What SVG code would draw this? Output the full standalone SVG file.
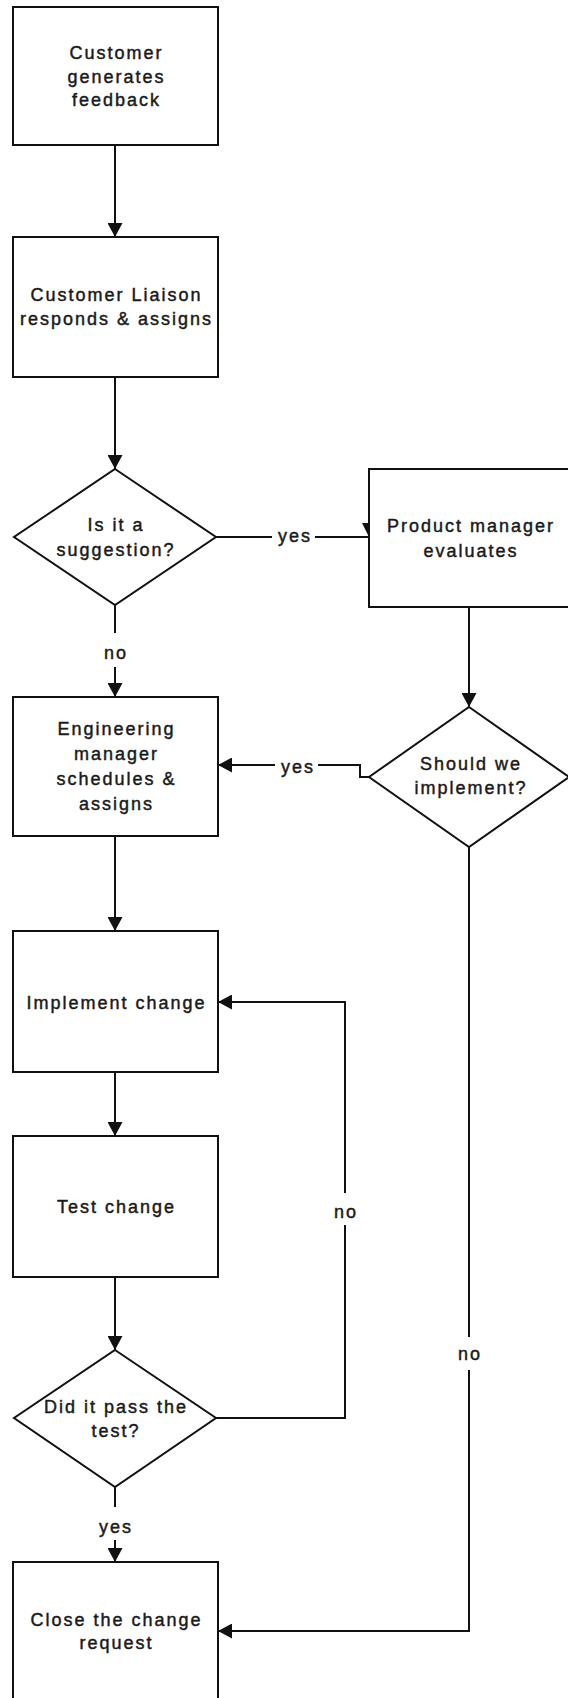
<svg xmlns="http://www.w3.org/2000/svg" width="568" height="1698" viewBox="0 0 568 1698">
<style>
.node rect, .node polygon { fill: #fff; stroke: #111; stroke-width: 2; }
text { font-family: "Liberation Sans", Arial, sans-serif; font-size: 18px; letter-spacing: 2px; fill: #1a1a1a; stroke: #1a1a1a; stroke-width: 0.45px; text-anchor: middle; }
.conn path { fill: none; stroke: #111; stroke-width: 2; }
.conn polygon { fill: #111; stroke: none; }
</style>
<defs>
<marker id="arrow" markerUnits="userSpaceOnUse" markerWidth="15" markerHeight="15" refX="14" refY="7.5" orient="auto">
<path d="M0,0 L14,7.5 L0,15 z" fill="#111"/>
</marker>
</defs>
<rect width="568" height="1698" fill="#fff"/>
<g id="connectors" class="conn">
<path d="M115,145 V237" marker-end="url(#arrow)"/>
<path d="M115,377 V469" marker-end="url(#arrow)"/>
<path d="M216,537 H272"/>
<path d="M315,537 H369"/>
<polygon points="362,523 376,523 369,537"/>
<path d="M115,605 V633"/>
<path d="M115,667 V697" marker-end="url(#arrow)"/>
<path d="M469,607 V707" marker-end="url(#arrow)"/>
<path d="M369,777 H360 V765 H318"/>
<path d="M275,765 H218" marker-end="url(#arrow)"/>
<path d="M115,836 V931" marker-end="url(#arrow)"/>
<path d="M115,1072 V1136" marker-end="url(#arrow)"/>
<path d="M115,1277 V1350" marker-end="url(#arrow)"/>
<path d="M216,1418 H345 V1225"/>
<path d="M345,1193 V1002 H218" marker-end="url(#arrow)"/>
<path d="M115,1487 V1507"/>
<path d="M115,1540 V1562" marker-end="url(#arrow)"/>
<path d="M469,847 V1337"/>
<path d="M469,1370 V1631 H218" marker-end="url(#arrow)"/>
<text x="295" y="542">yes</text>
<text x="116" y="659">no</text>
<text x="298" y="773">yes</text>
<text x="346" y="1218">no</text>
<text x="470" y="1360">no</text>
<text x="116" y="1533">yes</text>
</g>
<g id="customer-feedback" class="node">
<rect x="13" y="7" width="205" height="138"/>
<text x="116.5" y="59">Customer</text>
<text x="116.5" y="83">generates</text>
<text x="116.5" y="106">feedback</text>
</g>
<g id="liaison" class="node">
<rect x="13" y="237" width="205" height="140"/>
<text x="116.5" y="301">Customer Liaison</text>
<text x="116.5" y="325">responds &amp; assigns</text>
</g>
<g id="is-suggestion" class="node">
<polygon points="115,469 216,537 115,605 14,537"/>
<text x="116" y="531">Is it a</text>
<text x="116" y="556">suggestion?</text>
</g>
<g id="product-manager" class="node">
<rect x="369" y="469" width="210" height="138"/>
<text x="471" y="532">Product manager</text>
<text x="471" y="557">evaluates</text>
</g>
<g id="should-implement" class="node">
<polygon points="469,707 569,777 469,847 369,777"/>
<text x="471" y="770">Should we</text>
<text x="471" y="794">implement?</text>
</g>
<g id="engineering-manager" class="node">
<rect x="13" y="697" width="205" height="139"/>
<text x="116.5" y="735">Engineering</text>
<text x="116.5" y="760">manager</text>
<text x="116.5" y="785">schedules &amp;</text>
<text x="116.5" y="810">assigns</text>
</g>
<g id="implement-change" class="node">
<rect x="13" y="931" width="205" height="141"/>
<text x="116.5" y="1009">Implement change</text>
</g>
<g id="test-change" class="node">
<rect x="13" y="1136" width="205" height="141"/>
<text x="116.5" y="1213">Test change</text>
</g>
<g id="pass-test" class="node">
<polygon points="115,1350 216,1418 115,1487 14,1418"/>
<text x="116" y="1413">Did it pass the</text>
<text x="116" y="1437">test?</text>
</g>
<g id="close-request" class="node">
<rect x="13" y="1562" width="205" height="145"/>
<text x="116.5" y="1626">Close the change</text>
<text x="116.5" y="1649">request</text>
</g>
</svg>
